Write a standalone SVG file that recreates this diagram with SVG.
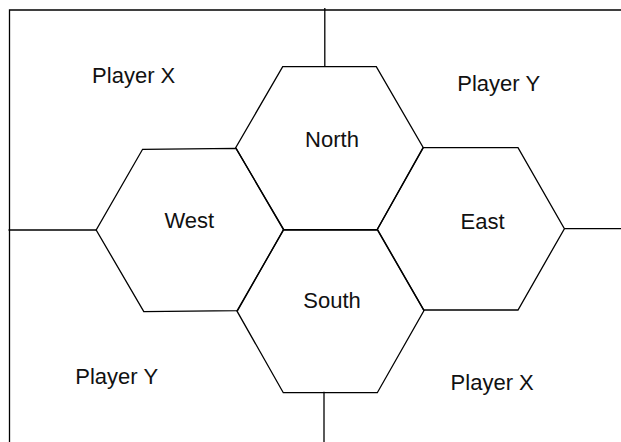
<svg xmlns="http://www.w3.org/2000/svg" width="621" height="442" viewBox="0 0 621 442">
<style>
.l{stroke:#000;stroke-width:1.3;fill:none}
.h{stroke:#000;stroke-width:1.3;fill:none;stroke-linejoin:miter}
text{font-family:"Liberation Sans",Arial,sans-serif;font-size:22px;fill:#111;text-anchor:middle}
</style>
<rect width="621" height="442" fill="#fff"/>
<g id="connectors">
<polyline class="l" points="9.5,442 9.5,10 621,10"/>
<line class="l" x1="324.8" y1="8" x2="324.8" y2="66.7"/>
<line class="l" x1="8.5" y1="230" x2="96.2" y2="230"/>
<line class="l" x1="564.4" y1="228.7" x2="621" y2="228.7"/>
<line class="l" x1="324" y1="391.7" x2="324" y2="442"/>
</g>
<g id="north">
<polygon class="h" points="282.7,66.7 376.3,66.7 423.3,147.7 377.2,229.6 283.4,229.6 235.7,147.7"/>
<text x="332" y="147">North</text>
</g>
<g id="west">
<polygon class="h" points="142.6,149.3 236,148.3 283.6,229.3 237.6,310.7 143.8,311.7 96.2,230"/>
<text x="189.3" y="228.3">West</text>
</g>
<g id="east">
<polygon class="h" points="423,147.7 518,147.7 564.4,228.7 518,310 423.8,310 377.4,229.3"/>
<text x="482.5" y="229">East</text>
</g>
<g id="south">
<polygon class="h" points="283.6,230 377.4,230 424,310.6 377.3,392.7 283.3,392.7 236.9,310.9"/>
<text x="332" y="308.3">South</text>
</g>
<g id="labels">
<text x="133.7" y="83.3">Player X</text>
<text x="498.7" y="91">Player Y</text>
<text x="116.7" y="383.5">Player Y</text>
<text x="492.2" y="390">Player X</text>
</g>
</svg>
